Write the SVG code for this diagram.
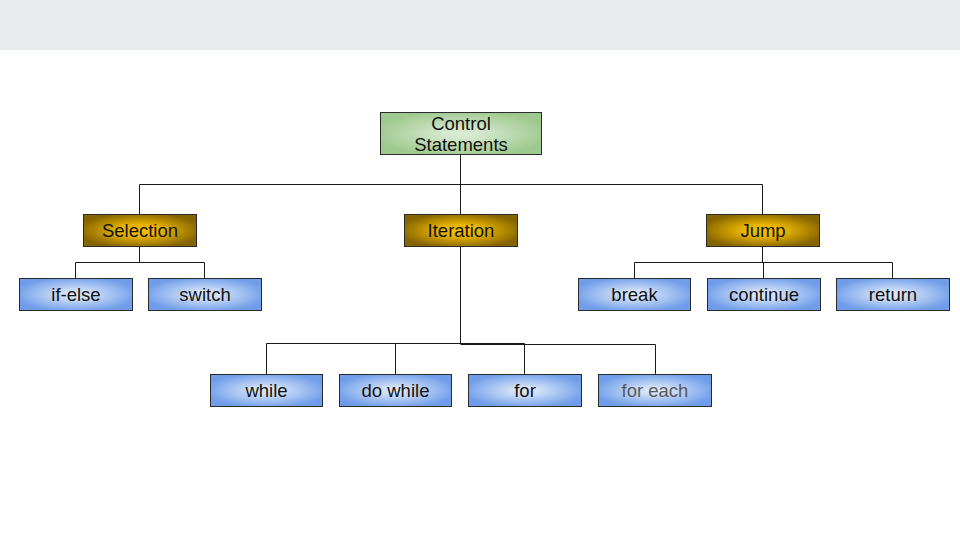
<svg xmlns="http://www.w3.org/2000/svg" width="960" height="540" viewBox="0 0 960 540">
<defs>
<radialGradient id="gBlue" cx="50%" cy="50%" r="55%">
<stop offset="0" stop-color="#dde9fa"/>
<stop offset="0.2" stop-color="#d3e2f8"/>
<stop offset="1" stop-color="#6f9de9"/>
</radialGradient>
<radialGradient id="gGold" cx="50%" cy="50%" r="55%">
<stop offset="0" stop-color="#f4c200"/>
<stop offset="0.35" stop-color="#e6b300"/>
<stop offset="1" stop-color="#866400"/>
</radialGradient>
<radialGradient id="gGreen" cx="50%" cy="50%" r="55%">
<stop offset="0" stop-color="#dcecd6"/>
<stop offset="0.2" stop-color="#d4e8cd"/>
<stop offset="1" stop-color="#9dc88e"/>
</radialGradient>
</defs>
<style>
.box{stroke:#2b2b2b;stroke-width:1}
.blue{fill:url(#gBlue)}
.gold{fill:url(#gGold)}
.green{fill:url(#gGreen)}
text{font-family:"Liberation Sans",Arial,sans-serif;font-size:18.5px;fill:#111;text-anchor:middle}
.gray{fill:#595959}
.conn{stroke:#1a1a1a;stroke-width:1;fill:none}
</style>
<rect x="0" y="0" width="960" height="50" fill="#e8eced"/>
<rect x="0" y="50" width="960" height="490" fill="#ffffff"/>
<g id="connectors" class="conn">
<path d="M460.5 154V184.5M139.5 214V184.5H762.5V214M460.5 184.5V214"/>
<path d="M139.5 246V262.5M75.5 278V262.5H204.5V278"/>
<path d="M762.5 246V262.5M634.5 278V262.5H892.5V278M763.5 262.5V278"/>
<path d="M460.5 246V343.5M266.5 374V343.5H524.5M460.5 344.5H655.5V374M395.5 343.5V374M524.5 343.5V374"/>
</g>
<g id="n-control"><rect class="box green" x="380.5" y="112.5" width="161" height="42"/><text x="461" y="129.5">Control</text><text x="461" y="150.5">Statements</text></g>
<g id="n-selection"><rect class="box gold" x="83.5" y="214.5" width="113" height="32"/><text x="140" y="237">Selection</text></g>
<g id="n-iteration"><rect class="box gold" x="404.5" y="214.5" width="113" height="32"/><text x="461" y="237">Iteration</text></g>
<g id="n-jump"><rect class="box gold" x="706.5" y="214.5" width="113" height="32"/><text x="763" y="237">Jump</text></g>
<g id="n-ifelse"><rect class="box blue" x="19.5" y="278.5" width="113" height="32"/><text x="76" y="301">if-else</text></g>
<g id="n-switch"><rect class="box blue" x="148.5" y="278.5" width="113" height="32"/><text x="205" y="301">switch</text></g>
<g id="n-break"><rect class="box blue" x="578.5" y="278.5" width="112" height="32"/><text x="634.5" y="301">break</text></g>
<g id="n-continue"><rect class="box blue" x="707.5" y="278.5" width="113" height="32"/><text x="764" y="301">continue</text></g>
<g id="n-return"><rect class="box blue" x="836.5" y="278.5" width="113" height="32"/><text x="893" y="301">return</text></g>
<g id="n-while"><rect class="box blue" x="210.5" y="374.5" width="112" height="32"/><text x="266.5" y="397">while</text></g>
<g id="n-dowhile"><rect class="box blue" x="339.5" y="374.5" width="112" height="32"/><text x="395.5" y="397">do while</text></g>
<g id="n-for"><rect class="box blue" x="468.5" y="374.5" width="113" height="32"/><text x="525" y="397">for</text></g>
<g id="n-foreach"><rect class="box blue" x="598.5" y="374.5" width="113" height="32"/><text class="gray" x="655" y="397">for each</text></g>
</svg>
